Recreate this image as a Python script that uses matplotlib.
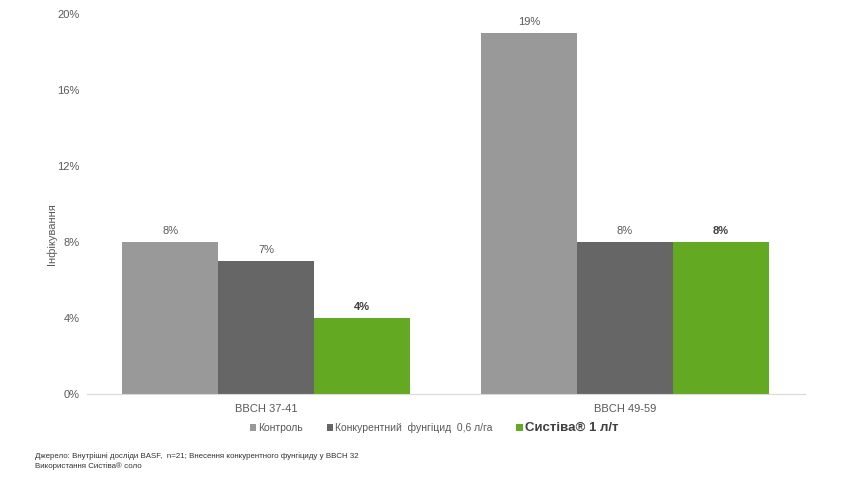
import matplotlib
matplotlib.use("Agg")
import matplotlib.pyplot as plt
import numpy as np
from matplotlib.patches import Patch

# Дані
categories = ["BBCH 37-41", "BBCH 49-59"]
series_names = ["Контроль", "Конкурентний  фунгіцид  0,6 л/га", "Систіва® 1 л/т"]
kontrol = [8, 19]
konkurent = [7, 8]
systiva = [4, 8]
yticks = [0, 4, 8, 12, 16, 20]

colors = ["#999999", "#666666", "#63a921"]
txt = "#595959"

plt.rcParams["font.family"] = ["Liberation Sans", "DejaVu Sans"]

fig = plt.figure(figsize=(8.5, 4.78), dpi=100)
ax = fig.add_axes([0.1018, 0.1757, 0.8447, 0.795])

x = np.arange(len(categories))
w = 0.8 / 3
values = [kontrol, konkurent, systiva]
for i, vals in enumerate(values):
    pos = x + (i - 1) * w
    ax.bar(pos, vals, width=w, color=colors[i], linewidth=0)
    for p, v in zip(pos, vals):
        bold = i == 2
        ax.text(p, v + 0.3, f"{v}%", ha="center", va="bottom", fontsize=8,
                color="#404040" if bold else txt,
                fontweight="bold" if bold else "normal")

ax.set_xlim(-0.5, 1.5)
ax.set_ylim(0, 20)
ax.set_yticks(yticks)
ax.set_yticklabels([f"{t}%" for t in yticks], fontsize=8, color=txt)
ax.set_xticks(x)
ax.set_xticklabels(categories, fontsize=8, color=txt)
ax.tick_params(axis="y", length=0, pad=5)
ax.tick_params(axis="x", length=0, pad=7)
for s in ["top", "right", "left"]:
    ax.spines[s].set_visible(False)
ax.spines["bottom"].set_color("#d9d9d9")

fig.text(52 / 850, 1 - 234 / 478, "Інфікування", rotation=90, ha="center",
         va="center", fontsize=8, color=txt)

handles = [Patch(facecolor=c, edgecolor="none") for c in colors]
leg = fig.legend(handles, series_names, loc="center", bbox_to_anchor=(434 / 850, 1 - 428 / 478),
                 ncol=3, frameon=False, fontsize=7.5, handlelength=0.6, handleheight=0.6,
                 handletextpad=0.2, columnspacing=2.3)
for t in leg.get_texts():
    t.set_color(txt)
last = leg.get_texts()[2]
last.set_fontsize(9.5)
last.set_fontweight("bold")
last.set_color("#404040")

fig.text(35 / 850, 1 - 456 / 478, "Джерело: Внутрішні досліди BASF,  n=21; Внесення конкурентного фунгіциду у BBCH 32",
         fontsize=5.7, color="#333333", va="center")
fig.text(35 / 850, 1 - 466 / 478, "Використання Систіва® соло",
         fontsize=5.7, color="#333333", va="center")

fig.savefig("out.png", dpi=100)
